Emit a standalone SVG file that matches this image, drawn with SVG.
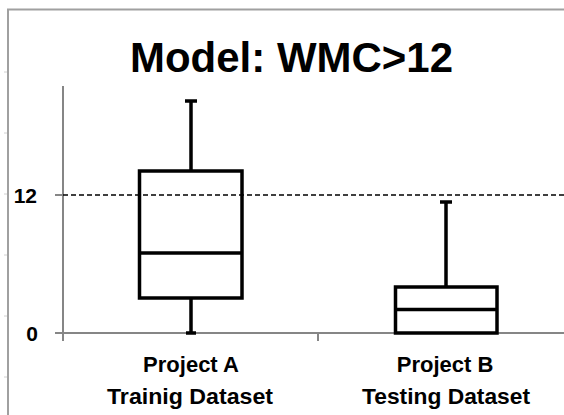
<svg xmlns="http://www.w3.org/2000/svg" width="564" height="415" viewBox="0 0 564 415">
<style>
.lbl{font-family:"Liberation Sans",Arial,sans-serif;font-weight:bold;fill:#000}
.axis{stroke:#868686;stroke-width:2;fill:none}
.box{stroke:#000;stroke-width:3.5;fill:none}
.frame{stroke:#a0a0a0;stroke-width:2;fill:none}
</style>
<rect width="564" height="415" fill="#fff"/>
<g id="frame">
<path class="frame" d="M8,430 V9.5 H580"/>
<path d="M4,72 H7 M4,133 H7 M4,194 H7 M4,255 H7 M4,316 H7 M4,377 H7" stroke="#d0d0d0" stroke-width="1"/>
</g>
<g id="title"><text class="lbl" x="291.5" y="72" font-size="42" text-anchor="middle" textLength="323" lengthAdjust="spacingAndGlyphs">Model: WMC&gt;12</text></g>
<g id="axes">
<path class="axis" d="M63,86 V341 M55,333 H564 M55,195 H63 M318,333 V341"/>
<text class="lbl" x="37" y="203" font-size="21" text-anchor="end">12</text>
<text class="lbl" x="38" y="341" font-size="21" text-anchor="end">0</text>
</g>
<g id="threshold"><line x1="63" y1="195" x2="564" y2="195" stroke="#000" stroke-width="1.5" stroke-dasharray="5,3"/></g>
<g id="boxA">
<path class="box" d="M191,101 V171 M185,101 H197 M191,298 V333 M186,333 H196"/>
<rect class="box" x="139.5" y="171" width="102.5" height="127"/>
<line class="box" x1="139.5" y1="253" x2="242" y2="253"/>
</g>
<g id="boxB">
<path class="box" d="M446,202 V287 M440,202 H452"/>
<rect class="box" x="395.5" y="287" width="101.5" height="46"/>
<line class="box" x1="395.5" y1="309.5" x2="497" y2="309.5"/>
</g>
<g id="labels">
<text class="lbl" x="191" y="372" font-size="22" text-anchor="middle">Project A</text>
<text class="lbl" x="190" y="404" font-size="22" text-anchor="middle" textLength="166" lengthAdjust="spacingAndGlyphs">Trainig Dataset</text>
<text class="lbl" x="445" y="372" font-size="22" text-anchor="middle">Project B</text>
<text class="lbl" x="446" y="404" font-size="22" text-anchor="middle" textLength="168" lengthAdjust="spacingAndGlyphs">Testing Dataset</text>
</g>
</svg>
